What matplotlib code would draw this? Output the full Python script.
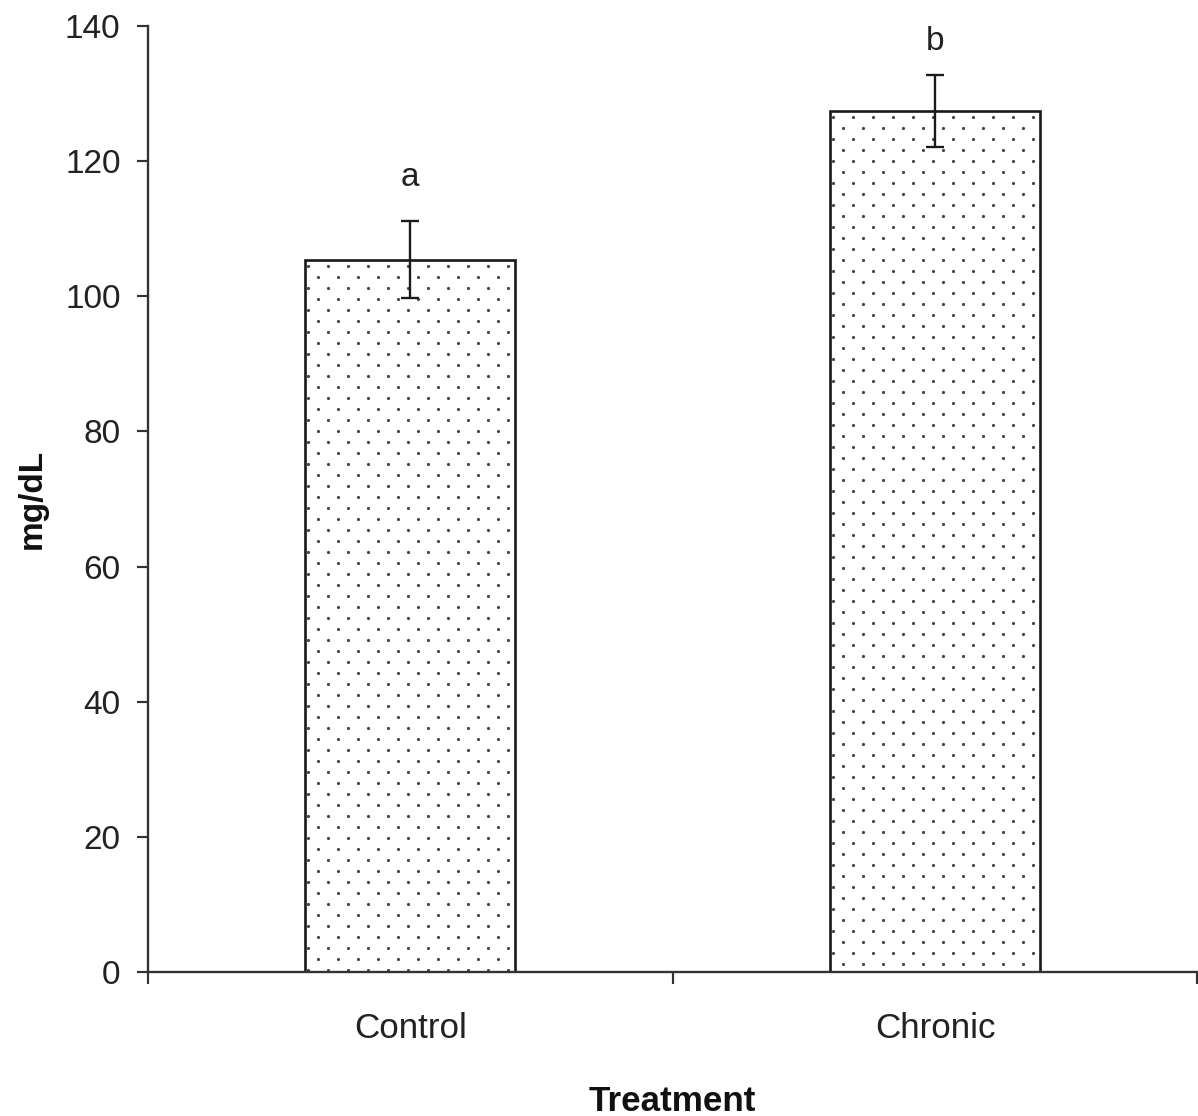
import matplotlib
matplotlib.use("Agg")
import matplotlib.pyplot as plt
from matplotlib.ticker import FixedLocator
from matplotlib import font_manager
import numpy as np

categories = ["Control", "Chronic"]
means = [105.4, 127.4]
errors = [5.7, 5.3]
letters = ["a", "b"]
yticks = [0, 20, 40, 60, 80, 100, 120, 140]

names = {f.name for f in font_manager.fontManager.ttflist}
narrow = 'Liberation Sans Narrow' in names
base = 'Liberation Sans Narrow' if narrow else 'Liberation Sans'
plt.rcParams['font.family'] = [base, 'DejaVu Sans']
fs = 24 if narrow else 20

DPI = 120
fig = plt.figure(figsize=(1198 / DPI, 1116 / DPI), dpi=DPI)
ax = fig.add_axes([148 / 1198, 1 - 972 / 1116, 1 - 148 / 1198 - 0.0005, (972 - 26) / 1116])

ax.set_xlim(-0.5, 1.5)
ax.set_ylim(0, 140)

x = list(range(len(categories)))
bars = ax.bar(x, means, width=0.4, color='white', edgecolor='#1a1a1a', linewidth=1.6,
              zorder=2)

# dotted fill texture (pixel-spaced grid clipped to each bar)
for rect in bars:
    (x0, y0), (x1, y1) = ax.transData.transform(
        [(rect.get_x(), rect.get_y()), (rect.get_x() + rect.get_width(), rect.get_y() + rect.get_height())])
    pts = []
    row = 0
    yy = y1 - 6
    while yy > y0:
        off = 10 if row % 2 else 0
        xx = x0 + 3 + off
        while xx < x1:
            pts.append((xx, yy))
            xx += 20
        yy -= 11
        row += 1
    pts = ax.transData.inverted().transform(np.array(pts))
    sc = ax.scatter(pts[:, 0], pts[:, 1], s=3.6, c='#444444', linewidths=0, zorder=2.5)
    sc.set_clip_path(rect)

ax.errorbar(x, means, yerr=errors, fmt='none', ecolor='#1a1a1a', elinewidth=1.4,
            capsize=5.5, capthick=1.4, zorder=3)
letter_offsets = [26, 20]
for xi, m, e, lab, off in zip(x, means, errors, letters, letter_offsets):
    ax.annotate(lab, (xi, m + e), xytext=(0, off), textcoords='offset points',
                ha='center', va='center', fontsize=fs, color='#222222')

ax.set_yticks(yticks)
ax.set_xticks(x)
ax.set_xticklabels(categories)
ax.xaxis.set_minor_locator(FixedLocator([-0.5, 0.5, 1.5]))
ax.tick_params(axis='x', which='major', length=0, pad=24, labelsize=fs + 1, colors='#222222')
ax.tick_params(axis='x', which='minor', length=7, width=1.3, direction='out', colors='#333333')
ax.tick_params(axis='y', length=6.5, width=1.3, direction='out', pad=10, labelsize=fs,
               colors='#333333', labelcolor='#222222')

for s in ['top', 'right']:
    ax.spines[s].set_visible(False)
for s in ['left', 'bottom']:
    ax.spines[s].set_linewidth(1.4)
    ax.spines[s].set_color('#333333')

ax.set_ylabel('mg/dL', fontsize=fs, fontweight='bold', labelpad=10, color='#111111')
ax.set_xlabel('Treatment', fontsize=fs + 1, fontweight='bold', labelpad=24, color='#111111')

fig.savefig('out.png', dpi=DPI)
